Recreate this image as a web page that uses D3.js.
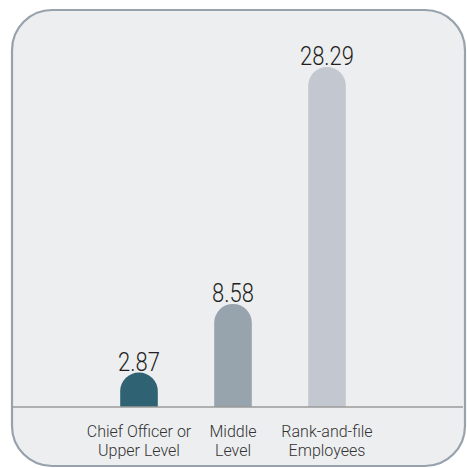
<!DOCTYPE html>
<html>
<head>
<meta charset="utf-8">
<script src="https://cdn.jsdelivr.net/npm/d3@7"></script>
<style>
  html, body { margin: 0; padding: 0; background: #ffffff; }
  svg { display: block; }
</style>
</head>
<body>
<svg id="chart" width="467" height="468"></svg>
<script>
// Average ratio by position level
const categories = ["Chief Officer or|Upper Level", "Middle|Level", "Rank-and-file|Employees"];
const values = [2.87, 8.58, 28.29];
const barColors = ["#2f6373", "#97a3ad", "#c3c7cf"];

const svg = d3.select("#chart");

// Panel with rounded border
svg.append("rect")
  .attr("x", 12).attr("y", 10)
  .attr("width", 453).attr("height", 456)
  .attr("rx", 40).attr("ry", 40)
  .attr("fill", "#edeef0")
  .attr("stroke", "#98a2ad")
  .attr("stroke-width", 2.2);

const baseY = 407;
const x = d3.scaleBand()
  .domain(categories)
  .range([92, 374])
  .paddingInner(0.6)
  .paddingOuter(0.3);

const y = d3.scaleLinear()
  .domain([0, 28.29])
  .range([baseY, 67]);

const bw = x.bandwidth();
const r = bw / 2;

// Bars with a semicircular cap
function barPath(d, i) {
  const x0 = x(categories[i]);
  const top = y(d);
  const x1 = x0 + bw;
  const capY = Math.min(top + r, baseY);
  return `M${x0},${baseY} L${x0},${capY} A${r},${r} 0 0 1 ${x1},${capY} L${x1},${baseY} Z`;
}

svg.append("g").selectAll("path")
  .data(values)
  .join("path")
  .attr("d", barPath)
  .attr("fill", (d, i) => barColors[i]);

// Baseline
svg.append("line")
  .attr("x1", 12).attr("x2", 463)
  .attr("y1", baseY).attr("y2", baseY)
  .attr("stroke", "#9a9a9a")
  .attr("stroke-width", 1.6);

// Value labels, drawn in a slightly condensed light face
const valueLabels = svg.append("g").selectAll("text")
  .data(values)
  .join("text")
  .attr("text-anchor", "middle")
  .attr("font-family", "Roboto, 'Open Sans', sans-serif")
  .attr("font-weight", 300)
  .attr("font-size", 25)
  .attr("fill", "#231f20")
  .text(d => d.toFixed(2));

const widest = d3.max(valueLabels.nodes(), n => n.getComputedTextLength());
const squeeze = Math.min(1, 54 / widest);
valueLabels.attr("transform", (d, i) =>
  `translate(${x(categories[i]) + bw / 2},${y(d) - 2}) scale(${squeeze},1)`);

// Category labels (two lines)
const labels = svg.append("g").selectAll("text")
  .data(categories)
  .join("text")
  .attr("x", d => x(d) + bw / 2)
  .attr("y", 437)
  .attr("text-anchor", "middle")
  .attr("font-family", "Roboto, 'Open Sans', sans-serif")
  .attr("font-weight", 300)
  .attr("font-size", 16)
  .attr("fill", "#333333");

labels.selectAll("tspan")
  .data(d => d.split("|"))
  .join("tspan")
  .attr("x", function() { return d3.select(this.parentNode).attr("x"); })
  .attr("dy", (d, i) => i === 0 ? 0 : 19)
  .text(d => d);
</script>
</body>
</html>
